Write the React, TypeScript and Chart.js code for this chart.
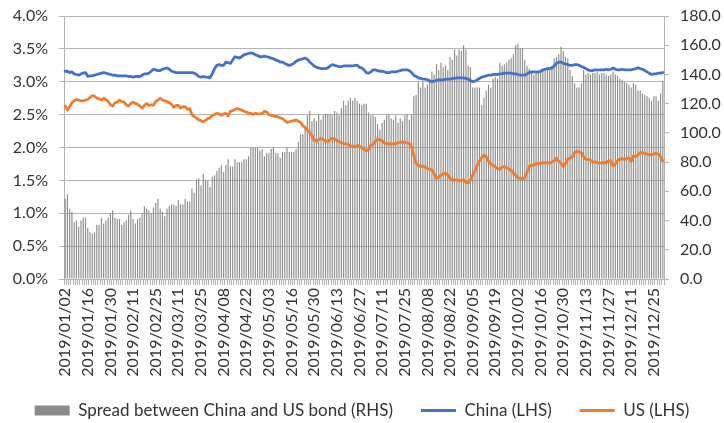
import React, { useEffect, useRef } from "react";
import { Chart, registerables } from "chart.js";

Chart.register(...registerables);

// Extra (weekend make-up) trading days present in the series
const extraDays = ["2019/02/02", "2019/02/03", "2019/04/28", "2019/05/05", "2019/09/29"];

const tickLabels = [
  "2019/01/02", "2019/01/16", "2019/01/30", "2019/02/11", "2019/02/25", "2019/03/11",
  "2019/03/25", "2019/04/08", "2019/04/22", "2019/05/03", "2019/05/16", "2019/05/30",
  "2019/06/13", "2019/06/27", "2019/07/11", "2019/07/25", "2019/08/08", "2019/08/22",
  "2019/09/05", "2019/09/19", "2019/10/02", "2019/10/16", "2019/10/30", "2019/11/13",
  "2019/11/27", "2019/12/11", "2019/12/25",
];

function buildCategories(): string[] {
  const out: string[] = [];
  const pad = (n: number) => (n < 10 ? "0" + n : "" + n);
  const d = new Date(2019, 0, 2);
  const end = new Date(2019, 11, 31);
  while (d <= end) {
    const s = `${d.getFullYear()}/${pad(d.getMonth() + 1)}/${pad(d.getDate())}`;
    const wd = d.getDay();
    if ((wd !== 0 && wd !== 6) || extraDays.includes(s)) out.push(s);
    d.setDate(d.getDate() + 1);
  }
  return out;
}
const categories = buildCategories();

// China 10Y yield, % (LHS)
const china = [
  3.16, 3.16, 3.14, 3.15, 3.12, 3.11, 3.10, 3.12, 3.13, 3.14,
  3.08, 3.09, 3.09, 3.10, 3.11, 3.12, 3.13, 3.14, 3.13, 3.12,
  3.11, 3.10, 3.10, 3.09, 3.09, 3.09, 3.09, 3.09, 3.08, 3.08,
  3.07, 3.08, 3.08, 3.08, 3.10, 3.12, 3.12, 3.13, 3.16, 3.19,
  3.18, 3.17, 3.17, 3.19, 3.20, 3.21, 3.19, 3.16, 3.15, 3.14,
  3.14, 3.14, 3.14, 3.14, 3.14, 3.14, 3.14, 3.13, 3.11, 3.08,
  3.07, 3.08, 3.07, 3.07, 3.06, 3.12, 3.20, 3.25, 3.26, 3.25,
  3.25, 3.30, 3.29, 3.28, 3.33, 3.38, 3.37, 3.36, 3.38, 3.41,
  3.42, 3.43, 3.44, 3.43, 3.41, 3.40, 3.38, 3.38, 3.39, 3.38,
  3.37, 3.36, 3.35, 3.33, 3.32, 3.30, 3.30, 3.28, 3.26, 3.25,
  3.26, 3.28, 3.31, 3.33, 3.34, 3.35, 3.36, 3.34, 3.30, 3.27,
  3.24, 3.22, 3.21, 3.20, 3.20, 3.20, 3.21, 3.24, 3.26, 3.25,
  3.24, 3.23, 3.23, 3.24, 3.24, 3.24, 3.24, 3.24, 3.25, 3.25,
  3.22, 3.21, 3.18, 3.14, 3.13, 3.15, 3.18, 3.18, 3.17, 3.16,
  3.16, 3.15, 3.14, 3.14, 3.15, 3.15, 3.15, 3.16, 3.17, 3.18,
  3.18, 3.18, 3.17, 3.14, 3.10, 3.08, 3.06, 3.05, 3.04, 3.04,
  3.03, 3.01, 3.00, 3.01, 3.02, 3.03, 3.03, 3.03, 3.04, 3.04,
  3.04, 3.05, 3.05, 3.06, 3.06, 3.06, 3.06, 3.05, 3.04, 3.02,
  3.00, 3.01, 3.03, 3.05, 3.07, 3.08, 3.09, 3.10, 3.10, 3.11,
  3.11, 3.11, 3.12, 3.12, 3.13, 3.13, 3.13, 3.13, 3.12, 3.12,
  3.11, 3.10, 3.10, 3.10, 3.12, 3.14, 3.15, 3.15, 3.15, 3.15,
  3.16, 3.18, 3.19, 3.20, 3.20, 3.21, 3.24, 3.28, 3.30, 3.30,
  3.28, 3.27, 3.26, 3.25, 3.25, 3.26, 3.26, 3.25, 3.23, 3.22,
  3.20, 3.18, 3.17, 3.17, 3.18, 3.18, 3.18, 3.18, 3.18, 3.19,
  3.18, 3.19, 3.21, 3.19, 3.18, 3.18, 3.19, 3.18, 3.18, 3.18,
  3.18, 3.19, 3.20, 3.21, 3.20, 3.19, 3.17, 3.15, 3.13, 3.11,
  3.12, 3.12, 3.13, 3.13, 3.14,
];

// US 10Y yield, % (LHS)
const us = [
  2.63, 2.57, 2.62, 2.68, 2.71, 2.73, 2.72, 2.71, 2.71, 2.72,
  2.73, 2.76, 2.79, 2.78, 2.75, 2.74, 2.72, 2.75, 2.73, 2.70,
  2.65, 2.63, 2.68, 2.69, 2.72, 2.70, 2.69, 2.65, 2.63, 2.67,
  2.69, 2.67, 2.66, 2.63, 2.60, 2.64, 2.67, 2.64, 2.65, 2.64,
  2.70, 2.72, 2.75, 2.72, 2.71, 2.70, 2.68, 2.66, 2.61, 2.64,
  2.64, 2.60, 2.62, 2.62, 2.58, 2.59, 2.50, 2.47, 2.45, 2.42,
  2.41, 2.39, 2.41, 2.44, 2.45, 2.49, 2.50, 2.52, 2.51, 2.49,
  2.51, 2.52, 2.48, 2.55, 2.56, 2.58, 2.59, 2.58, 2.57, 2.55,
  2.54, 2.52, 2.52, 2.50, 2.52, 2.51, 2.51, 2.52, 2.55, 2.54,
  2.50, 2.49, 2.48, 2.47, 2.47, 2.45, 2.44, 2.41, 2.38, 2.39,
  2.40, 2.41, 2.42, 2.40, 2.38, 2.33, 2.30, 2.26, 2.23, 2.18,
  2.11, 2.10, 2.12, 2.14, 2.12, 2.10, 2.09, 2.12, 2.14, 2.13,
  2.11, 2.09, 2.07, 2.06, 2.05, 2.05, 2.02, 2.02, 2.01, 2.03,
  2.02, 2.00, 1.97, 1.95, 1.97, 2.03, 2.05, 2.09, 2.13, 2.12,
  2.10, 2.07, 2.06, 2.05, 2.06, 2.05, 2.06, 2.07, 2.08, 2.08,
  2.08, 2.07, 2.06, 2.01, 1.88, 1.76, 1.73, 1.71, 1.72, 1.70,
  1.68, 1.67, 1.66, 1.60, 1.53, 1.55, 1.58, 1.60, 1.61, 1.58,
  1.53, 1.51, 1.50, 1.51, 1.49, 1.50, 1.51, 1.47, 1.46, 1.50,
  1.58, 1.64, 1.73, 1.80, 1.85, 1.88, 1.86, 1.79, 1.75, 1.73,
  1.70, 1.68, 1.67, 1.70, 1.71, 1.69, 1.67, 1.65, 1.61, 1.58,
  1.54, 1.53, 1.52, 1.54, 1.62, 1.71, 1.73, 1.73, 1.76, 1.75,
  1.76, 1.77, 1.76, 1.77, 1.76, 1.78, 1.80, 1.84, 1.79, 1.76,
  1.71, 1.76, 1.82, 1.84, 1.86, 1.92, 1.94, 1.93, 1.92, 1.86,
  1.82, 1.82, 1.81, 1.78, 1.78, 1.77, 1.76, 1.77, 1.76, 1.78,
  1.79, 1.80, 1.72, 1.75, 1.80, 1.82, 1.83, 1.82, 1.83, 1.84,
  1.79, 1.87, 1.86, 1.89, 1.92, 1.92, 1.91, 1.90, 1.89, 1.89,
  1.90, 1.91, 1.90, 1.86, 1.79,
];

// Spread between China and US bond, bp (RHS)
const spread = [
  55, 58, 48, 46, 39, 40, 36, 40, 42, 42,
  35, 32, 31, 32, 37, 37, 42, 38, 40, 42,
  45, 47, 42, 41, 41, 37, 39, 40, 44, 47,
  41, 38, 41, 42, 45, 50, 48, 47, 45, 49,
  52, 55, 48, 46, 43, 48, 50, 51, 51, 50,
  54, 51, 51, 55, 53, 53, 62, 59, 68, 69,
  64, 72, 68, 67, 63, 70, 71, 74, 76, 78,
  73, 78, 82, 77, 77, 82, 80, 80, 80, 82,
  82, 84, 90, 90, 90, 90, 88, 89, 84, 86,
  86, 89, 90, 86, 86, 83, 87, 87, 90, 87,
  87, 87, 89, 94, 99, 99, 105, 112, 115, 108,
  110, 108, 113, 109, 112, 113, 113, 113, 112, 115,
  114, 112, 117, 122, 119, 122, 124, 122, 124, 122,
  120, 119, 120, 120, 114, 112, 112, 111, 106, 102,
  107, 109, 112, 113, 110, 109, 112, 107, 110, 108,
  112, 113, 109, 113, 125, 126, 135, 131, 135, 131,
  133, 137, 142, 140, 147, 143, 148, 145, 146, 143,
  152, 150, 157, 153, 157, 156, 160, 157, 146, 145,
  131, 131, 131, 131, 119, 124, 129, 133, 131, 137,
  138, 137, 148, 146, 147, 148, 150, 151, 154, 160,
  161, 158, 158, 150, 146, 144, 142, 140, 141, 142,
  143, 144, 144, 145, 145, 146, 151, 152, 154, 159,
  156, 152, 151, 143, 139, 134, 131, 131, 134, 143,
  140, 141, 140, 141, 141, 142, 140, 141, 141, 140,
  139, 140, 142, 140, 139, 137, 136, 135, 134, 133,
  131, 134, 133, 129, 129, 127, 126, 125, 124, 122,
  125, 125, 122, 127, 135,
];

const tickSet = new Set(tickLabels);

// Nudges the legend row down and lets the rotated x labels draw past the axis box
const layoutTweaks = {
  id: "layoutTweaks",
  afterLayout(chart: any) {
    const l = chart.legend;
    if (l) {
      l.top += 6;
      l.bottom += 6;
    }
    const x = chart.scales && chart.scales.x;
    if (x) x.bottom += 30;
  },
};

export default function App() {
  const ref = useRef<HTMLCanvasElement | null>(null);

  useEffect(() => {
    document.body.style.margin = "0";
    const canvas = ref.current;
    if (!canvas) return;
    const gridColor = "#b3b3b3";
    const textColor = "#333333";
    const tickFont = { family: "Lato", size: 16 };
    const chart = new Chart(canvas, {
      type: "bar",
      data: {
        labels: categories,
        datasets: [
          {
            type: "bar",
            label: "Spread between China and US bond (RHS)",
            data: spread,
            yAxisID: "y1",
            backgroundColor: "#8a8a8a",
            borderWidth: 0,
            barPercentage: 0.5,
            categoryPercentage: 1.0,
            order: 2,
          } as any,
          {
            type: "line",
            label: "China (LHS)",
            data: china,
            yAxisID: "y",
            borderColor: "#4472C4",
            backgroundColor: "#4472C4",
            borderWidth: 2.8,
            pointRadius: 0,
            tension: 0,
            borderJoinStyle: "round",
            borderCapStyle: "round",
            order: 1,
          } as any,
          {
            type: "line",
            label: "US (LHS)",
            data: us,
            yAxisID: "y",
            borderColor: "#ED7D31",
            backgroundColor: "#ED7D31",
            borderWidth: 2.8,
            pointRadius: 0,
            tension: 0,
            borderJoinStyle: "round",
            borderCapStyle: "round",
            order: 0,
          } as any,
        ],
      },
      options: {
        animation: false,
        responsive: false,
        devicePixelRatio: 1,
        layout: { padding: { top: 16, left: 0, right: 0, bottom: 0 } },
        scales: {
          x: {
            offset: true,
            grid: {
              offset: true,
              drawOnChartArea: false,
              drawTicks: true,
              tickLength: 6,
              color: gridColor,
            },
            border: { color: gridColor },
            ticks: {
              autoSkip: false,
              minRotation: 90,
              maxRotation: 90,
              padding: 3,
              color: textColor,
              font: tickFont,
              callback: (_v: any, i: number) => (tickSet.has(categories[i]) ? categories[i] : ""),
            },
            afterFit: (s: any) => {
              s.height = 89;
            },
          },
          y: {
            position: "left",
            min: 0,
            max: 4,
            grid: { color: gridColor, tickLength: 5 },
            border: { color: gridColor },
            ticks: {
              stepSize: 0.5,
              padding: 11,
              color: textColor,
              font: tickFont,
              callback: (v: any) => Number(v).toFixed(1) + "%",
            },
            afterFit: (s: any) => {
              s.width = 64;
              s.paddingTop = 0;
              s.paddingBottom = 0;
            },
          },
          y1: {
            position: "right",
            min: 0,
            max: 180,
            grid: { drawOnChartArea: false, tickLength: 5, color: gridColor },
            border: { color: gridColor },
            ticks: {
              stepSize: 20,
              padding: 11,
              color: textColor,
              font: tickFont,
              callback: (v: any) => Number(v).toFixed(1),
            },
            afterFit: (s: any) => {
              s.width = 60;
              s.paddingTop = 0;
              s.paddingBottom = 0;
            },
          },
        },
        plugins: {
          tooltip: { enabled: false },
          legend: {
            position: "bottom",
            labels: {
              usePointStyle: true,
              pointStyleWidth: 35,
              boxWidth: 35,
              boxHeight: 10,
              padding: 28,
              color: textColor,
              font: { family: "Lato", size: 17 },
              sort: (a: any, b: any) => a.datasetIndex - b.datasetIndex,
              generateLabels: (c: any) => {
                const items = (Chart.defaults.plugins.legend.labels as any).generateLabels(c);
                return items.map((it: any) => ({
                  ...it,
                  pointStyle: it.datasetIndex === 0 ? "rect" : "line",
                  lineWidth: it.datasetIndex === 0 ? 0 : 2.8,
                }));
              },
            },
          },
        },
      },
      plugins: [layoutTweaks],
    } as any);
    return () => chart.destroy();
  }, []);

  return (
    <div style={{ width: 724, height: 423, overflow: "hidden" }}>
      <canvas ref={ref} width={724} height={423} style={{ display: "block" }} />
    </div>
  );
}
